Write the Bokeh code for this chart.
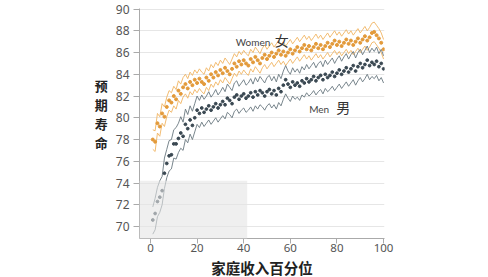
from bokeh.plotting import figure
from bokeh.models import FixedTicker, Label, BoxAnnotation, Title
from bokeh.embed import file_html
from bokeh.resources import INLINE

percentile = list(range(1, 101))

men_mean = [70.6, 71.2, 72.3, 72.7, 73.3, 74.9, 75.8, 76.5, 76.6, 77.6,
            77.6, 78.1, 78.6, 78.3, 79.4, 79.0, 79.8, 79.3, 80.0, 80.7,
            80.4, 80.9, 80.5, 80.8, 81.1, 80.7, 81.0, 81.3, 80.9, 81.2,
            81.5, 81.2, 81.8, 81.6, 81.3, 81.9, 82.1, 81.7, 82.0, 82.2,
            81.8, 82.0, 82.3, 81.9, 82.4, 82.1, 82.5, 82.3, 82.0, 82.4,
            82.6, 82.2, 82.5, 82.1, 82.7, 82.4, 83.0, 83.5, 83.1, 82.8,
            83.3, 83.0, 83.2, 82.9, 83.4, 83.2, 83.6, 83.3, 83.5, 83.8,
            83.4, 83.7, 83.9, 83.5, 84.0, 83.7, 83.9, 84.2, 83.8, 84.1,
            84.4, 84.0, 84.3, 84.6, 84.2, 84.5, 84.8, 84.3, 84.7, 85.0,
            84.6, 84.9, 85.3, 84.8, 85.1, 84.9, 85.2, 84.7, 85.0, 84.5]

men_upper = [71.8, 72.6, 73.6, 74.2, 74.6, 76.3, 77.1, 77.9, 78.0, 78.9,
             79.1, 79.5, 80.1, 79.6, 80.8, 80.3, 81.1, 80.6, 81.3, 82.0,
             81.6, 82.1, 81.7, 82.0, 82.4, 81.9, 82.2, 82.6, 82.1, 82.4,
             82.8, 82.4, 83.1, 82.8, 82.5, 83.2, 83.4, 82.9, 83.2, 83.5,
             83.0, 83.2, 83.6, 83.1, 83.7, 83.3, 83.8, 83.5, 83.2, 83.7,
             83.9, 83.4, 83.8, 83.3, 84.0, 83.6, 84.3, 84.8, 84.3, 84.0,
             84.6, 84.2, 84.5, 84.1, 84.7, 84.4, 84.9, 84.5, 84.8, 85.1,
             84.6, 85.0, 85.2, 84.7, 85.3, 84.9, 85.2, 85.5, 85.0, 85.4,
             85.7, 85.2, 85.6, 85.9, 85.4, 85.8, 86.1, 85.5, 86.0, 86.3,
             85.8, 86.2, 86.6, 86.0, 86.4, 86.1, 86.5, 85.9, 86.3, 85.7]

men_lower = [69.3, 69.7, 70.9, 71.3, 72.0, 73.5, 74.5, 75.1, 75.3, 76.3,
             76.2, 76.8, 77.2, 77.0, 78.0, 77.7, 78.5, 78.0, 78.7, 79.4,
             79.1, 79.6, 79.2, 79.5, 79.8, 79.4, 79.7, 80.0, 79.6, 79.9,
             80.2, 79.9, 80.5, 80.3, 80.0, 80.6, 80.8, 80.4, 80.7, 80.9,
             80.5, 80.7, 81.0, 80.6, 81.1, 80.8, 81.2, 81.0, 80.7, 81.1,
             81.3, 80.9, 81.2, 80.8, 81.4, 81.1, 81.7, 82.2, 81.8, 81.5,
             82.0, 81.7, 81.9, 81.6, 82.1, 81.9, 82.3, 82.0, 82.2, 82.5,
             82.1, 82.4, 82.6, 82.2, 82.7, 82.4, 82.6, 82.9, 82.5, 82.8,
             83.1, 82.7, 83.0, 83.3, 82.9, 83.2, 83.5, 83.0, 83.4, 83.7,
             83.3, 83.6, 84.0, 83.5, 83.8, 83.6, 83.9, 83.4, 83.7, 83.2]

women_mean = [78.0, 77.8, 79.5, 79.2, 80.4, 80.1, 81.0, 81.6, 81.4, 82.0,
              81.7, 82.5, 82.2, 82.8, 83.1, 82.7, 83.3, 83.0, 83.5, 83.2,
              83.6, 83.3, 83.1, 83.7, 83.4, 84.0, 83.7, 84.2, 83.9, 84.4,
              84.1, 84.6, 84.3, 84.0, 84.5, 85.0, 84.7, 85.2, 84.9, 85.3,
              85.0, 84.8, 85.4, 85.1, 85.6, 85.3, 85.0, 85.5, 85.8, 85.4,
              85.7, 86.0, 85.6, 85.9, 86.2, 85.8, 86.1, 85.7, 86.0, 86.3,
              85.9, 86.2, 86.5, 86.1, 86.4, 86.7, 86.3, 86.6, 86.2, 86.5,
              86.8, 86.4, 86.7, 86.3, 86.6, 86.9, 86.5, 86.8, 87.1, 86.7,
              87.0, 86.6, 86.9, 87.2, 86.8, 87.1, 86.7, 87.0, 87.3, 86.9,
              87.2, 87.5, 87.1, 87.4, 87.8, 87.9, 87.6, 87.3, 86.9, 86.3]

women_upper = [78.9, 78.8, 80.4, 80.1, 81.3, 81.0, 81.9, 82.5, 82.3, 82.9,
               82.6, 83.4, 83.1, 83.7, 84.0, 83.6, 84.2, 83.9, 84.4, 84.1,
               84.5, 84.2, 84.0, 84.6, 84.3, 84.9, 84.6, 85.1, 84.8, 85.3,
               85.0, 85.5, 85.2, 84.9, 85.4, 85.9, 85.6, 86.1, 85.8, 86.2,
               85.9, 85.7, 86.3, 86.0, 86.5, 86.2, 85.9, 86.4, 86.7, 86.3,
               86.6, 86.9, 86.5, 86.8, 87.1, 86.7, 87.0, 86.6, 86.9, 87.2,
               86.8, 87.1, 87.4, 87.0, 87.3, 87.6, 87.2, 87.5, 87.1, 87.4,
               87.7, 87.3, 87.6, 87.2, 87.5, 87.8, 87.4, 87.7, 88.0, 87.6,
               87.9, 87.5, 87.8, 88.1, 87.7, 88.0, 87.6, 87.9, 88.2, 87.8,
               88.1, 88.4, 88.0, 88.3, 88.7, 88.8, 88.5, 88.2, 87.8, 87.2]

women_lower = [77.1, 76.9, 78.6, 78.3, 79.5, 79.2, 80.1, 80.7, 80.5, 81.1,
               80.8, 81.6, 81.3, 81.9, 82.2, 81.8, 82.4, 82.1, 82.6, 82.3,
               82.7, 82.4, 82.2, 82.8, 82.5, 83.1, 82.8, 83.3, 83.0, 83.5,
               83.2, 83.7, 83.4, 83.1, 83.6, 84.1, 83.8, 84.3, 84.0, 84.4,
               84.1, 83.9, 84.5, 84.2, 84.7, 84.4, 84.1, 84.6, 84.9, 84.5,
               84.8, 85.1, 84.7, 85.0, 85.3, 84.9, 85.2, 84.8, 85.1, 85.4,
               85.0, 85.3, 85.6, 85.2, 85.5, 85.8, 85.4, 85.7, 85.3, 85.6,
               85.9, 85.5, 85.8, 85.4, 85.7, 86.0, 85.6, 85.9, 86.2, 85.8,
               86.1, 85.7, 86.0, 86.3, 85.9, 86.2, 85.8, 86.1, 86.4, 86.0,
               86.3, 86.6, 86.2, 86.5, 86.9, 87.0, 86.7, 86.4, 86.0, 85.4]

y_ticks = [70, 72, 74, 76, 78, 80, 82, 84, 86, 88, 90]
x_ticks = [0, 20, 40, 60, 80, 100]

WOMEN_DOT = "#e39a3a"
WOMEN_LINE = "#f0b462"
MEN_DOT = "#3a4852"
MEN_LINE = "#6a7880"

p = figure(width=488, height=277, x_range=(-4.7, 100.4), y_range=(68.9, 90.05),
           min_border_left=139, min_border_right=104, min_border_top=8,
           min_border_bottom=38, output_backend="svg", toolbar_location=None)
p.outline_line_color = None
p.background_fill_color = "white"
p.border_fill_color = "white"

p.xgrid.grid_line_color = None
p.ygrid.grid_line_color = "#e6e6e6"
p.ygrid.grid_line_width = 1

p.yaxis.ticker = FixedTicker(ticks=y_ticks)
p.xaxis.ticker = FixedTicker(ticks=x_ticks)
for ax in (p.xaxis[0], p.yaxis[0]):
    ax.axis_line_color = "#aaaaaa"
    ax.major_tick_line_color = "#aaaaaa"
    ax.minor_tick_line_color = None
    ax.major_tick_in = 0
    ax.major_tick_out = 6
    ax.major_label_text_font = "Noto Sans"
    ax.major_label_text_font_size = "12px"
    ax.major_label_text_color = "#555555"
p.yaxis.major_label_standoff = 4
p.xaxis.major_tick_out = 5
p.xaxis.major_label_standoff = 0
p.xaxis.major_label_text_font_size = "11.5px"

# y axis title: stacked upright characters
p.yaxis.axis_label = "预\n期\n寿\n命\n"
p.yaxis.axis_label_orientation = "horizontal"
p.yaxis.axis_label_text_font = "Noto Sans CJK SC"
p.yaxis.axis_label_text_font_size = "13px"
p.yaxis.axis_label_text_font_style = "bold"
p.yaxis.axis_label_text_color = "#222222"
p.yaxis.axis_label_text_line_height = 1.0
p.yaxis.axis_label_standoff = 5

# x axis title
p.add_layout(Title(text="家庭收入百分位", align="center", offset=-14,
                   text_font="Noto Sans CJK SC", text_font_size="14.5px",
                   text_font_style="bold", text_color="#222222",
                   standoff=0, text_line_height=1.0), "below")

# confidence lines
p.line(percentile, women_upper, line_color=WOMEN_LINE, line_width=0.9)
p.line(percentile, women_lower, line_color=WOMEN_LINE, line_width=0.9)
p.line(percentile, men_upper, line_color=MEN_LINE, line_width=0.9)
p.line(percentile, men_lower, line_color=MEN_LINE, line_width=0.9)
# means
p.scatter(percentile, women_mean, size=3.0, color=WOMEN_DOT, marker="circle")
p.scatter(percentile, men_mean, size=2.8, color=MEN_DOT, marker="circle")

# series labels
p.add_layout(Label(x=36.6, y=87.0, text="Women", text_font="Lato",
                   text_font_size="10px", text_color="#444444",
                   text_baseline="middle", text_align="left"))
p.add_layout(Label(x=53.3, y=87.15, text="女", text_font="Noto Sans CJK SC",
                   text_font_size="14px", text_color="#333333",
                   text_baseline="middle", text_align="left"))
p.add_layout(Label(x=68.1, y=80.8, text="Men", text_font="Lato",
                   text_font_size="10px", text_color="#444444",
                   text_baseline="middle", text_align="left"))
p.add_layout(Label(x=79.7, y=80.95, text="男", text_font="Noto Sans CJK SC",
                   text_font_size="14px", text_color="#333333",
                   text_baseline="middle", text_align="left"))

# overlay panel from the video frame
p.add_layout(BoxAnnotation(left=-64, right=41.5, bottom=66.2, top=74.2,
                           fill_color="#e4e4e4", fill_alpha=0.6, line_color=None))

open("out.html", "w").write(file_html(p, INLINE))
